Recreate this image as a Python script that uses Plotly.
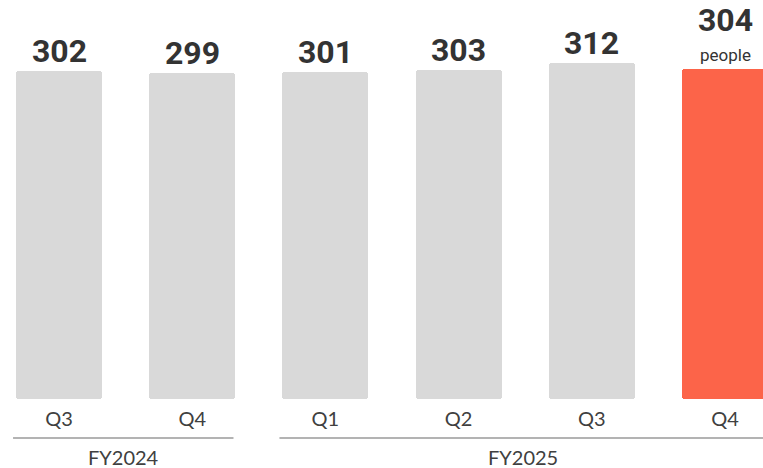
import plotly.graph_objects as go

quarters = ["Q3", "Q4", "Q1", "Q2", "Q3", "Q4"]
values = [302, 299, 301, 303, 312, 304]
groups = ["FY2024", "FY2024", "FY2025", "FY2025", "FY2025", "FY2025"]
unit_label = "people"
bar_colors = ["#d9d9d9"] * 5 + ["#fc6449"]

W, H = 763, 468
plot_bottom = 399
base_val = -101
y_top = 389

xs = list(range(len(values)))

fig = go.Figure()
fig.add_trace(go.Bar(
    x=xs, y=[v - base_val for v in values], base=base_val,
    width=0.645,
    marker=dict(color=bar_colors, line=dict(width=0), cornerradius=3),
    hoverinfo="skip",
))

annotations = []
for i, v in enumerate(values):
    last = i == len(values) - 1
    annotations.append(dict(
        x=i, y=v, xref="x", yref="y", text=str(v), showarrow=False,
        yanchor="bottom", yshift=28 if last else -1,
        font=dict(family="Roboto", size=32, color="#333333", weight="bold"),
    ))
annotations.append(dict(
    x=len(values) - 1, y=values[-1], xref="x", yref="y", text=unit_label,
    showarrow=False, yanchor="bottom", yshift=2,
    font=dict(family="Roboto", size=17, color="#333333"),
))

# group underline + labels
shapes = []
py = lambda px: (plot_bottom - px) / plot_bottom
uniq = []
for g in groups:
    if g not in uniq:
        uniq.append(g)
for g in uniq:
    idx = [i for i, gg in enumerate(groups) if gg == g]
    x0, x1 = idx[0] - 0.345, idx[-1] + 0.31
    shapes.append(dict(type="line", xref="x", yref="paper", x0=x0, x1=x1,
                       y0=py(438), y1=py(438),
                       line=dict(color="#b3b3b3", width=2)))
    annotations.append(dict(
        x=(x0 + x1) / 2, y=py(457), xref="x", yref="paper", text=g,
        showarrow=False, yanchor="middle",
        font=dict(family="Lato", size=20, color="#404040"),
    ))

fig.update_layout(
    width=W, height=H,
    margin=dict(l=0, r=0, t=0, b=H - plot_bottom),
    paper_bgcolor="white", plot_bgcolor="white",
    showlegend=False,
    bargap=0,
    annotations=annotations, shapes=shapes,
    xaxis=dict(
        range=[-59 / 133.2, -59 / 133.2 + W / 133.2],
        tickmode="array", tickvals=xs, ticktext=quarters,
        tickfont=dict(family="Lato", size=20, color="#404040"),
        showgrid=False, zeroline=False, showline=False, ticks="",
        ticklabelstandoff=6,
    ),
    yaxis=dict(range=[base_val, y_top], visible=False, showgrid=False,
               zeroline=False),
)

fig.write_html("out.html")
